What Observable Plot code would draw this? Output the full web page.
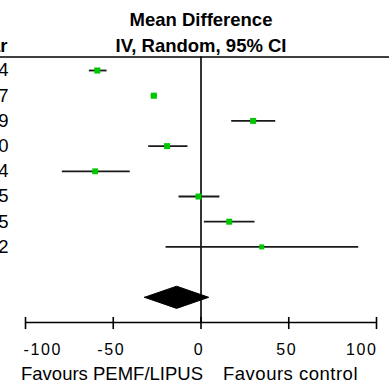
<!DOCTYPE html>
<html><head><meta charset="utf-8">
<script src="https://cdn.jsdelivr.net/npm/d3@7"></script>
<script src="https://cdn.jsdelivr.net/npm/@observablehq/plot@0.6"></script>
<style>body{margin:0;background:#fff;overflow:hidden;}</style>
</head><body><div id="chart"></div>
<script>
// Study rows (only the last digit of the Year column is visible in the crop)
const years = ["1994", "1997", "1999", "2000", "2004", "2005", "2005", "2012"];
const md = [-59.1, -26.9, 29.7, -19.3, -60.3, -1.4, 16.1, 34.6];
const lower = [-63.9, -28.6, 17.2, -30.1, -79.3, -12.8, 1.6, -20.2];
const upper = [-53.8, -25.2, 42.3, -7.7, -40.6, 10.5, 30.5, 89.6];
const weights = [13.3, 13.5, 12.9, 13.1, 12.3, 13.0, 12.9, 9.0];
const pooled = {md: -13.9, lo: -32.2, hi: 4.4};
const ticks = [-100, -50, 0, 50, 100];
const titleLines = ["Mean Difference", "IV, Random, 95% CI"];
const columnHeader = "Year";
const favours = ["Favours PEMF/LIPUS", "Favours control"];

const rows = years.map((y, i) => ({i, year: y, md: md[i], lo: lower[i], hi: upper[i], w: weights[i]}));
const nRows = rows.length;
const yHeader = -0.536;
const yDiamond = nRows + 1;
const yAxis = nRows + 2;
const hd = 0.44;
const diamond = [
  {x: pooled.lo, y: yDiamond}, {x: pooled.md, y: yDiamond - hd},
  {x: pooled.hi, y: yDiamond}, {x: pooled.md, y: yDiamond + hd},
  {x: pooled.lo, y: yDiamond}
];
const font = "'Liberation Sans', Arial, sans-serif";

const chart = Plot.plot({
  width: 389, height: 388,
  marginLeft: 25, marginRight: 13, marginTop: 0, marginBottom: 0,
  style: {fontFamily: font, background: "white", color: "black", overflow: "visible"},
  x: {domain: [-100, 100], axis: null},
  y: {domain: [-2.778, 12.619], range: [0, 388], axis: null},
  r: {domain: [0, d3.max(weights)], range: [0, 3.45]},
  marks: [
    Plot.ruleY([yHeader], {x1: -115, x2: 110, stroke: "black", strokeWidth: 1.6}),
    Plot.ruleX([0], {y1: yHeader, y2: yAxis, stroke: "black", strokeWidth: 1.6}),
    Plot.ruleY([yAxis], {x1: -100, x2: 100, stroke: "black", strokeWidth: 1.6}),
    Plot.ruleX(ticks, {y1: yAxis - 0.2, y2: yAxis + 0.28, stroke: "black", strokeWidth: 1.6}),
    Plot.link(rows, {x1: "lo", x2: "hi", y1: "i", y2: "i", stroke: "#1a1a1a", strokeWidth: 1.8}),
    Plot.dot(rows, {x: "md", y: "i", r: "w", symbol: "square", fill: "#00c800", stroke: null}),
    Plot.line(diamond, {x: "x", y: "y", fill: "black", stroke: "black", strokeWidth: 1}),
    // titles
    Plot.text(titleLines, {x: () => 0, y: (d, i) => -2.01 + i * 1.04, text: d => d, fontSize: 18.5, fontWeight: "bold"}),
    Plot.text([columnHeader], {frameAnchor: "left", y: () => -0.97, text: d => d, textAnchor: "end", dx: -18, fontSize: 18.5, fontWeight: "bold"}),
    // study labels
    Plot.text(rows, {frameAnchor: "left", y: "i", text: "year", textAnchor: "end", dx: -17, fontSize: 18.5}),
    // tick labels
    Plot.text(ticks.filter((d, i) => i === 0), {x: d => d, y: () => yAxis + 1.07, text: d => String(d), textAnchor: "start", dx: -2, fontSize: 16}),
    Plot.text(ticks.filter((d, i) => i > 0 && i < ticks.length - 1), {x: d => d, y: () => yAxis + 1.07, text: d => String(d), textAnchor: "middle", dx: -2, fontSize: 16}),
    Plot.text(ticks.filter((d, i) => i === ticks.length - 1), {x: d => d, y: () => yAxis + 1.07, text: d => String(d), textAnchor: "end", dx: 1, fontSize: 16}),
    // favours labels
    Plot.text([favours[0]], {x: () => 0, y: () => yAxis + 2.06, text: d => d, textAnchor: "end", dx: 2, fontSize: 18.5}),
    Plot.text([favours[1]], {x: () => 0, y: () => yAxis + 2.06, text: d => d, textAnchor: "start", dx: 22, fontSize: 18.5})
  ]
});
document.getElementById("chart").append(chart);
d3.select(chart).selectAll("text").each(function () {
  const t = this.textContent;
  if (ticks.map(String).includes(t)) this.style.letterSpacing = "1.6px";
  if (t === favours[1]) this.style.letterSpacing = "0.5px";
});
</script>
</body></html>
